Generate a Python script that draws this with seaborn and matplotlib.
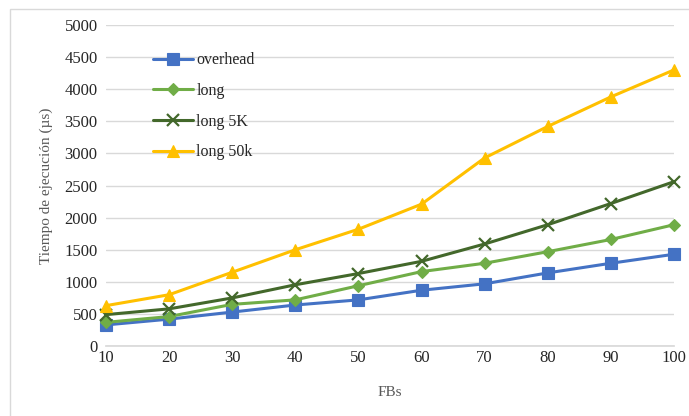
import matplotlib
matplotlib.use("Agg")
import matplotlib.pyplot as plt
import seaborn as sns
import pandas as pd
from matplotlib.patches import Rectangle

fbs = [10, 20, 30, 40, 50, 60, 70, 80, 90, 100]
overhead = [330, 420, 530, 640, 720, 870, 970, 1140, 1290, 1430]
long_ = [370, 460, 650, 720, 940, 1160, 1290, 1470, 1660, 1890]
long_5k = [490, 580, 750, 955, 1130, 1320, 1590, 1890, 2220, 2560]
long_50k = [630, 800, 1150, 1500, 1820, 2210, 2930, 3420, 3880, 4300]

series_names = ["overhead", "long", "long 5K", "long 50k"]
series_values = [overhead, long_, long_5k, long_50k]
colors = ["#4472C4", "#70AD47", "#43682B", "#FFC000"]
markers = ["s", "D", "x", "^"]
msizes = [8, 6, 8, 8]

y_ticks = list(range(0, 5001, 500))

sns.set_theme(style="white")
plt.rcParams["font.family"] = ["Liberation Serif", "DejaVu Serif"]

df = pd.concat(
    [pd.DataFrame({"FBs": fbs, "value": v, "series": n})
     for n, v in zip(series_names, series_values)],
    ignore_index=True,
)

fig = plt.figure(figsize=(6.89, 4.16), dpi=100)
ax = fig.add_axes([0.1538, 0.168, 0.8244, 0.772])

for name, color, mk, ms in zip(series_names, colors, markers, msizes):
    sub = df[df["series"] == name]
    sns.lineplot(
        data=sub, x="FBs", y="value", ax=ax, color=color, linewidth=2.2,
        marker=mk, markersize=ms, markeredgecolor=color,
        markeredgewidth=1.6 if mk == "x" else 0.8, label=name, clip_on=False,
    )

ax.set_xlim(10, 100)
ax.set_ylim(0, 5000)
ax.set_xticks(fbs)
ax.set_yticks(y_ticks)
ax.grid(axis="y", color="#d9d9d9", linewidth=1.0)
ax.set_axisbelow(True)
for s in ["top", "right", "left"]:
    ax.spines[s].set_visible(False)
ax.spines["bottom"].set_color("#d9d9d9")
ax.tick_params(axis="both", length=0, labelsize=12, colors="#262626", pad=6)
ax.tick_params(axis="x", pad=3)

ax.set_xlabel("FBs", fontsize=11, color="#595959", labelpad=14)
ax.set_ylabel("Tiempo de ejecución (µs)", fontsize=11, color="#595959", labelpad=8)

leg = ax.legend(
    loc="upper left", bbox_to_anchor=(0.072, 0.935), frameon=False,
    fontsize=11.5, labelspacing=0.92, handlelength=2.5, handletextpad=0.2,
    borderaxespad=0,
)

fig.patches.append(Rectangle((10 / 689, -0.05), 1.0, 1 - 9 / 416 + 0.05,
                             transform=fig.transFigure, fill=False,
                             edgecolor="#d9d9d9", linewidth=1.0))

fig.savefig("out.png", dpi=100)
